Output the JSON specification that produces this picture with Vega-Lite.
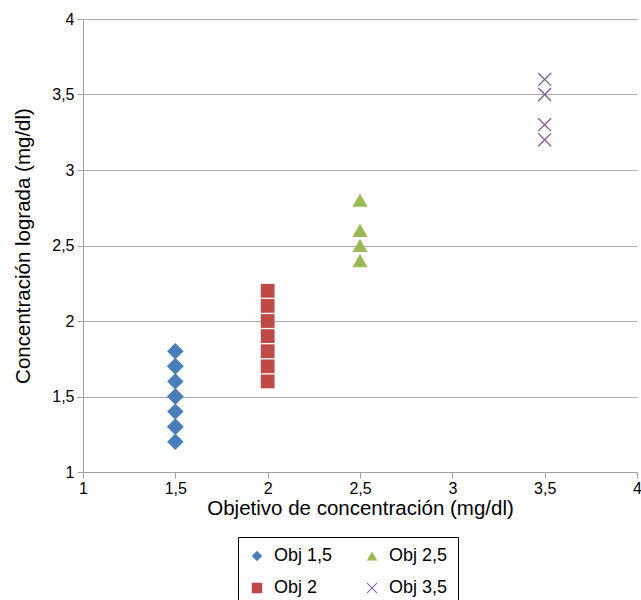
{
  "$schema": "https://vega.github.io/schema/vega-lite/v6.json",
  "autosize": {"type": "none"},
  "width": 554,
  "height": 453,
  "padding": {"left": 83, "top": 19, "right": 4, "bottom": 128},
  "background": "white",
  "config": {
    "font": "Liberation Sans",
    "view": {"stroke": null},
    "axis": {"labelFont": "Liberation Sans", "titleFont": "Liberation Sans", "labelColor": "black", "titleColor": "black", "titleFontWeight": "normal", "labelFontSize": 16, "titleFontSize": 20.5}
  },
  "data": {
    "values": [
      {"obj": 1.5, "val": 1.8, "serie": "Obj 1,5"},
      {"obj": 1.5, "val": 1.7, "serie": "Obj 1,5"},
      {"obj": 1.5, "val": 1.7, "serie": "Obj 1,5"},
      {"obj": 1.5, "val": 1.6, "serie": "Obj 1,5"},
      {"obj": 1.5, "val": 1.5, "serie": "Obj 1,5"},
      {"obj": 1.5, "val": 1.5, "serie": "Obj 1,5"},
      {"obj": 1.5, "val": 1.4, "serie": "Obj 1,5"},
      {"obj": 1.5, "val": 1.3, "serie": "Obj 1,5"},
      {"obj": 1.5, "val": 1.3, "serie": "Obj 1,5"},
      {"obj": 1.5, "val": 1.2, "serie": "Obj 1,5"},
      {"obj": 2, "val": 2.2, "serie": "Obj 2"},
      {"obj": 2, "val": 2.1, "serie": "Obj 2"},
      {"obj": 2, "val": 2.0, "serie": "Obj 2"},
      {"obj": 2, "val": 1.9, "serie": "Obj 2"},
      {"obj": 2, "val": 1.8, "serie": "Obj 2"},
      {"obj": 2, "val": 1.7, "serie": "Obj 2"},
      {"obj": 2, "val": 1.6, "serie": "Obj 2"},
      {"obj": 2.5, "val": 2.8, "serie": "Obj 2,5"},
      {"obj": 2.5, "val": 2.6, "serie": "Obj 2,5"},
      {"obj": 2.5, "val": 2.5, "serie": "Obj 2,5"},
      {"obj": 2.5, "val": 2.4, "serie": "Obj 2,5"},
      {"obj": 3.5, "val": 3.6, "serie": "Obj 3,5"},
      {"obj": 3.5, "val": 3.5, "serie": "Obj 3,5"},
      {"obj": 3.5, "val": 3.3, "serie": "Obj 3,5"},
      {"obj": 3.5, "val": 3.2, "serie": "Obj 3,5"}
    ]
  },
  "encoding": {
    "x": {
      "field": "obj", "type": "quantitative",
      "scale": {"domain": [1, 4], "nice": false, "zero": false},
      "axis": {
        "title": "Objetivo de concentración (mg/dl)",
        "values": [1, 1.5, 2, 2.5, 3, 3.5, 4],
        "labelExpr": "replace(format(datum.value, '~g'), '.', ',')",
        "grid": false, "domainColor": "#a0a0a0", "tickColor": "#a0a0a0", "tickSize": 6,
        "labelPadding": 2, "titlePadding": 2, "labelFlush": false
      }
    },
    "y": {
      "field": "val", "type": "quantitative",
      "scale": {"domain": [1, 4], "nice": false, "zero": false},
      "axis": {
        "title": "Concentración lograda (mg/dl)",
        "values": [1, 1.5, 2, 2.5, 3, 3.5, 4],
        "labelExpr": "replace(format(datum.value, '~g'), '.', ',')",
        "grid": true, "gridColor": "#a8a8a8", "domainColor": "#a0a0a0", "tickColor": "#a0a0a0", "tickSize": 6,
        "labelPadding": 3, "titlePadding": 18, "labelFlush": false
      }
    },
    "color": {
      "field": "serie", "type": "nominal",
      "scale": {"domain": ["Obj 1,5", "Obj 2", "Obj 2,5", "Obj 3,5"], "range": ["#4a7ebb", "#be4b48", "#98b954", "#7d60a0"]},
      "legend": {
        "title": null, "orient": "none", "legendX": 155, "legendY": 518,
        "columns": 2, "columnPadding": 30, "rowPadding": 14,
        "labelFontSize": 18, "labelFont": "Liberation Sans", "labelColor": "black",
        "symbolSize": 110, "labelOffset": 8,
        "strokeColor": "black", "padding": 10, "fillColor": "white"
      }
    },
    "shape": {
      "field": "serie", "type": "nominal",
      "scale": {"domain": ["Obj 1,5", "Obj 2", "Obj 2,5", "Obj 3,5"], "range": ["diamond", "square", "triangle-up", "M-1,-0.86L-0.86,-1L0,-0.14L0.86,-1L1,-0.86L0.14,0L1,0.86L0.86,1L0,0.14L-0.86,1L-1,0.86L-0.14,0Z"]},
      "legend": null
    }
  },
  "layer": [
    {
      "transform": [{"filter": "datum.serie === 'Obj 1,5'"}],
      "mark": {"type": "point", "filled": true, "opacity": 1, "size": 270}
    },
    {
      "transform": [{"filter": "datum.serie === 'Obj 2' || datum.serie === 'Obj 3,5'"}],
      "mark": {"type": "point", "filled": true, "opacity": 1, "size": 190}
    },
    {
      "transform": [{"filter": "datum.serie === 'Obj 2,5'"}],
      "mark": {"type": "point", "filled": true, "opacity": 1, "size": 230}
    }
  ]
}
